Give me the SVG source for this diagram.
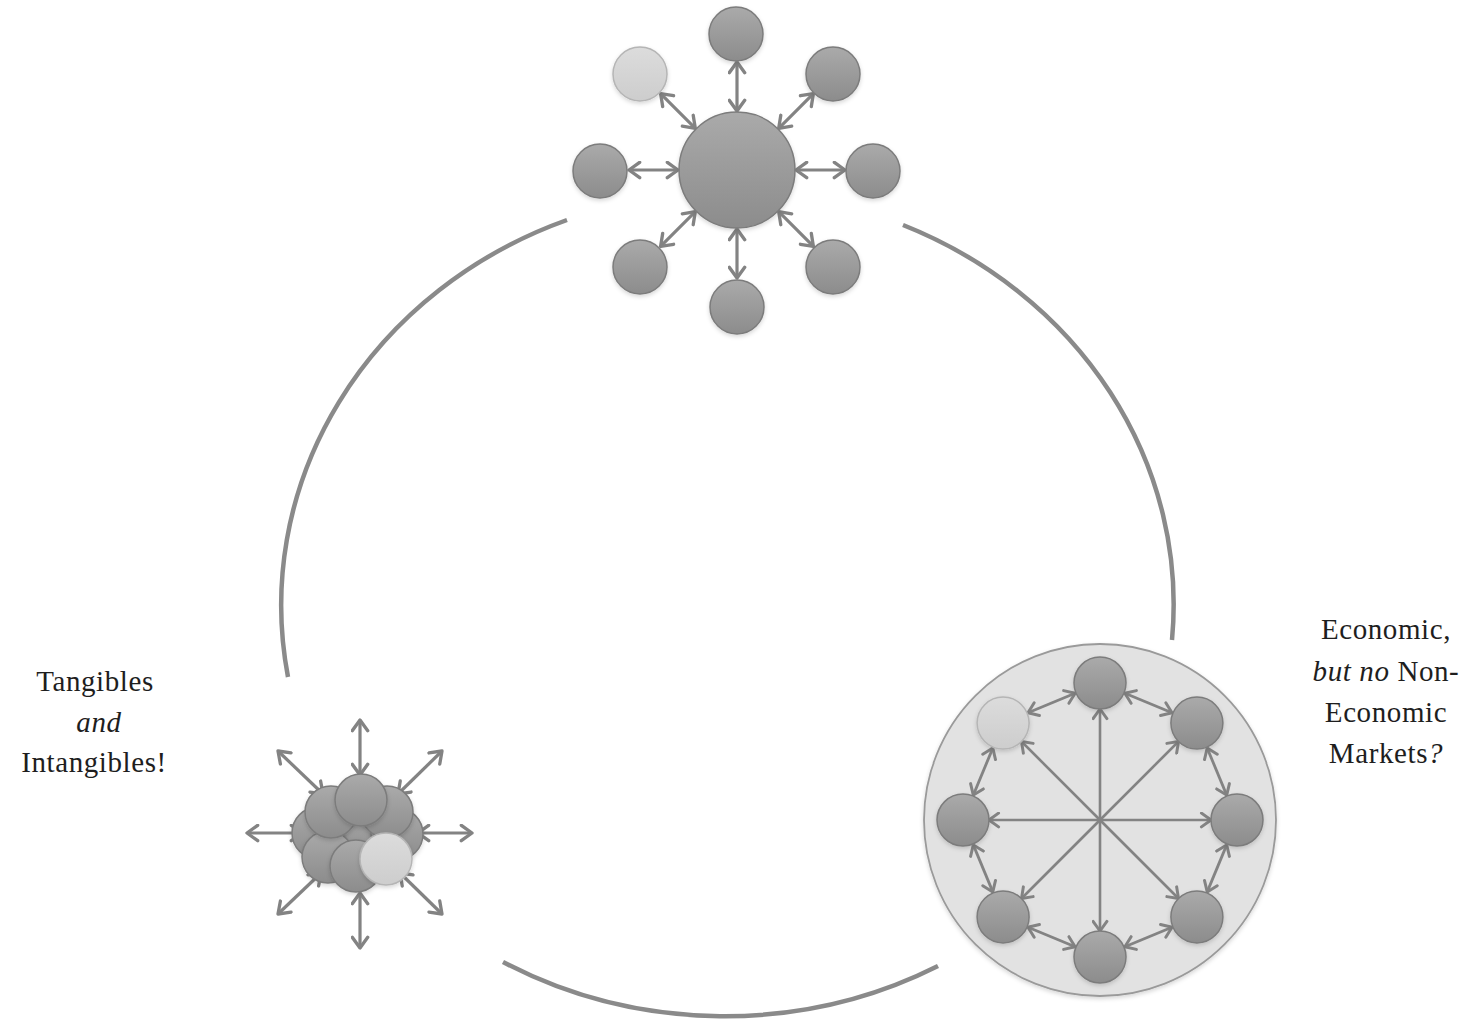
<svg xmlns="http://www.w3.org/2000/svg" width="1470" height="1023" viewBox="0 0 1470 1023">
<defs>
  <linearGradient id="g" x1="0" y1="0" x2="0" y2="1">
    <stop offset="0" stop-color="#aaaaaa"/>
    <stop offset="1" stop-color="#8c8c8c"/>
  </linearGradient>
  <linearGradient id="gl" x1="0" y1="0" x2="0" y2="1">
    <stop offset="0" stop-color="#dcdcdc"/>
    <stop offset="1" stop-color="#cdcdcd"/>
  </linearGradient>
  <filter id="sh" x="-30%" y="-30%" width="160%" height="160%">
    <feDropShadow dx="0" dy="2" stdDeviation="2" flood-color="#000" flood-opacity="0.16"/>
  </filter>
  <marker id="ah" viewBox="0 0 16 16" markerUnits="userSpaceOnUse" markerWidth="19" markerHeight="19" refX="11" refY="8" orient="auto-start-reverse">
    <path d="M2,1.5 L11,8 L2,14.5" fill="none" stroke="#838383" stroke-width="2.8" stroke-linecap="round" stroke-linejoin="round"/>
  </marker>
  <marker id="ahs" viewBox="0 0 16 16" markerUnits="userSpaceOnUse" markerWidth="17" markerHeight="17" refX="11" refY="8" orient="auto-start-reverse">
    <path d="M2,1.5 L11,8 L2,14.5" fill="none" stroke="#838383" stroke-width="2.8" stroke-linecap="round" stroke-linejoin="round"/>
  </marker>
</defs>
<style>
  .ring { fill: none; stroke: #8a8a8a; stroke-width: 4.5; stroke-linecap: butt; }
  .n { fill: url(#g); stroke: #7c7c7c; stroke-width: 1.5; filter: url(#sh); }
  .nl { fill: url(#gl); stroke: #b5b5b5; stroke-width: 1.5; filter: url(#sh); }
  .a2 { stroke: #838383; stroke-width: 3.2; fill: none; marker-start: url(#ah); marker-end: url(#ah); }
  .a1 { stroke: #838383; stroke-width: 2.6; fill: none; marker-end: url(#ahs); }
  .a2s { stroke: #838383; stroke-width: 2.8; fill: none; marker-start: url(#ahs); marker-end: url(#ahs); }
  .t { font-family: "Liberation Serif", Tinos, "Noto Serif", "DejaVu Serif", Times, Georgia, serif; font-size: 29px; fill: #1e1e1e; text-anchor: middle; letter-spacing: 0.6px; }
  .i { font-style: italic; }
</style>

<g id="connectors">
  <path class="ring" d="M567,220 A447,413 0 0 0 288,677"/>
  <path class="ring" d="M903,225 A447,413 0 0 1 1172,640"/>
  <path class="ring" d="M503,962 A447,413 0 0 0 938,966"/>

  <line class="a2" x1="796" y1="170" x2="845" y2="170"/>
  <line class="a2" x1="678" y1="170" x2="629" y2="170"/>
  <line class="a2" x1="737" y1="111" x2="737" y2="62"/>
  <line class="a2" x1="737" y1="229" x2="737" y2="278"/>
  <line class="a2" x1="778.7" y1="128.3" x2="813.4" y2="93.6"/>
  <line class="a2" x1="778.7" y1="211.7" x2="813.4" y2="246.4"/>
  <line class="a2" x1="695.3" y1="211.7" x2="660.6" y2="246.4"/>
  <line class="a2" x1="695.3" y1="128.3" x2="660.6" y2="93.6"/>

  <line class="a2" x1="360" y1="775" x2="360" y2="720"/>
  <line class="a2" x1="360" y1="893" x2="360" y2="948"/>
  <line class="a2" x1="302" y1="833" x2="247" y2="833"/>
  <line class="a2" x1="418" y1="833" x2="472" y2="833"/>
  <line class="a2" x1="323" y1="794" x2="278" y2="751"/>
  <line class="a2" x1="398" y1="794" x2="442" y2="751"/>
  <line class="a2" x1="321" y1="873" x2="278" y2="914"/>
  <line class="a2" x1="400" y1="873" x2="442" y2="914"/>
</g>

<g id="node-top">
  <circle class="n" cx="737" cy="170" r="58"/>
  <circle class="n" cx="736" cy="34" r="27"/>
  <circle class="n" cx="833" cy="74" r="27"/>
  <circle class="n" cx="873" cy="171" r="27"/>
  <circle class="n" cx="833" cy="267" r="27"/>
  <circle class="n" cx="737" cy="307" r="27"/>
  <circle class="n" cx="640" cy="267" r="27"/>
  <circle class="n" cx="600" cy="171" r="27"/>
  <circle class="nl" cx="640" cy="74" r="27"/>
</g>

<g id="node-bottom-left">
  <circle class="n" cx="358" cy="835" r="28"/>
  <circle class="n" cx="318" cy="833" r="26"/>
  <circle class="n" cx="328" cy="857" r="26"/>
  <circle class="n" cx="397" cy="834" r="26"/>
  <circle class="n" cx="331" cy="812" r="26"/>
  <circle class="n" cx="387" cy="812" r="26"/>
  <circle class="n" cx="361" cy="800" r="26"/>
  <circle class="n" cx="356" cy="866" r="26"/>
  <circle class="nl" cx="386" cy="859" r="26"/>
</g>

<g id="node-bottom-right">
  <circle cx="1100" cy="820" r="176" fill="#e2e2e2" stroke="#9a9a9a" stroke-width="1.8" filter="url(#sh)"/>
  <g id="br-connectors">
    <line class="a1" x1="1100" y1="820" x2="1211" y2="820"/>
    <line class="a1" x1="1100" y1="820" x2="989" y2="820"/>
    <line class="a1" x1="1100" y1="820" x2="1100" y2="709"/>
    <line class="a1" x1="1100" y1="820" x2="1100" y2="931"/>
    <line class="a1" x1="1100" y1="820" x2="1178.5" y2="741.5"/>
    <line class="a1" x1="1100" y1="820" x2="1178.5" y2="898.5"/>
    <line class="a1" x1="1100" y1="820" x2="1021.5" y2="898.5"/>
    <line class="a1" x1="1100" y1="820" x2="1021.5" y2="741.5"/>
    <line class="a2s" x1="1124.9" y1="693.3" x2="1172" y2="712.8"/>
    <line class="a2s" x1="1207.2" y1="748.1" x2="1226.7" y2="795.1"/>
    <line class="a2s" x1="1226.7" y1="844.9" x2="1207.2" y2="891.9"/>
    <line class="a2s" x1="1172" y1="927.2" x2="1124.9" y2="946.7"/>
    <line class="a2s" x1="1075.1" y1="946.7" x2="1028" y2="927.2"/>
    <line class="a2s" x1="992.8" y1="891.9" x2="973.3" y2="844.9"/>
    <line class="a2s" x1="973.3" y1="795.1" x2="992.8" y2="748.1"/>
    <line class="a2s" x1="1028" y1="712.8" x2="1075.1" y2="693.3"/>
  </g>
  <circle class="n" cx="1100" cy="683" r="26"/>
  <circle class="n" cx="1196.9" cy="723.1" r="26"/>
  <circle class="n" cx="1237" cy="820" r="26"/>
  <circle class="n" cx="1196.9" cy="916.9" r="26"/>
  <circle class="n" cx="1100" cy="957" r="26"/>
  <circle class="n" cx="1003.1" cy="916.9" r="26"/>
  <circle class="n" cx="963" cy="820" r="26"/>
  <circle class="nl" cx="1003.1" cy="723.1" r="26"/>
</g>

<g id="label-left">
  <text class="t" x="95" y="691">Tangibles</text>
  <text class="t i" x="99" y="732">and</text>
  <text class="t" x="94" y="772">Intangibles!</text>
</g>

<g id="label-right">
  <text class="t" x="1386" y="639">Economic,</text>
  <text class="t" x="1386" y="681"><tspan class="i">but no</tspan> Non-</text>
  <text class="t" x="1386" y="722">Economic</text>
  <text class="t" x="1386" y="763">Markets<tspan class="i">?</tspan></text>
</g>
</svg>
